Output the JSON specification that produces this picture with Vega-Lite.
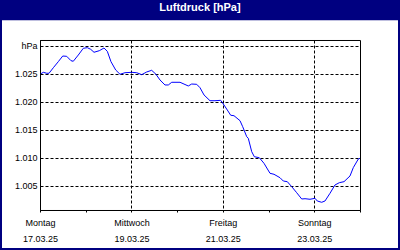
{
  "$schema": "https://vega.github.io/schema/vega-lite/v6.json",
  "width": 320,
  "height": 170,
  "autosize": {"type": "none"},
  "padding": {"left": 40, "top": 40, "right": 40, "bottom": 40},
  "background": "#000080",
  "title": {
    "text": "Luftdruck [hPa]",
    "color": "#FFFFFF",
    "font": "Liberation Sans",
    "fontSize": 11,
    "fontWeight": "bold",
    "anchor": "middle",
    "frame": "group",
    "baseline": "alphabetic",
    "offset": -22.5,
    "zindex": 1
  },
  "config": {
    "view": {"fill": "#FFFFFF", "stroke": "#FFFFFF", "strokeWidth": 76},
    "axis": {"labelOverlap": false}
  },
  "resolve": {"axis": {"x": "independent", "y": "independent"}},
  "data": {
    "values": [
      {"t": "2025-03-17T00:00:00Z", "p": 1024.95},
      {"t": "2025-03-17T01:44:00Z", "p": 1025.30},
      {"t": "2025-03-17T03:32:00Z", "p": 1025.13},
      {"t": "2025-03-17T04:44:00Z", "p": 1025.13},
      {"t": "2025-03-17T07:00:00Z", "p": 1026.12},
      {"t": "2025-03-17T09:36:00Z", "p": 1027.20},
      {"t": "2025-03-17T11:56:00Z", "p": 1028.21},
      {"t": "2025-03-17T14:01:00Z", "p": 1028.16},
      {"t": "2025-03-17T16:16:00Z", "p": 1027.38},
      {"t": "2025-03-17T17:28:00Z", "p": 1027.27},
      {"t": "2025-03-17T20:07:00Z", "p": 1028.39},
      {"t": "2025-03-17T22:44:00Z", "p": 1029.59},
      {"t": "2025-03-18T00:50:00Z", "p": 1029.70},
      {"t": "2025-03-18T02:37:00Z", "p": 1029.41},
      {"t": "2025-03-18T04:21:00Z", "p": 1028.88},
      {"t": "2025-03-18T07:08:00Z", "p": 1029.16},
      {"t": "2025-03-18T09:36:00Z", "p": 1029.64},
      {"t": "2025-03-18T11:20:00Z", "p": 1029.05},
      {"t": "2025-03-18T13:16:00Z", "p": 1027.20},
      {"t": "2025-03-18T15:45:00Z", "p": 1025.71},
      {"t": "2025-03-18T18:00:00Z", "p": 1024.95},
      {"t": "2025-03-18T20:37:00Z", "p": 1025.23},
      {"t": "2025-03-19T00:09:00Z", "p": 1025.30},
      {"t": "2025-03-19T02:46:00Z", "p": 1025.23},
      {"t": "2025-03-19T05:24:00Z", "p": 1024.88},
      {"t": "2025-03-19T08:01:00Z", "p": 1025.36},
      {"t": "2025-03-19T10:38:00Z", "p": 1025.66},
      {"t": "2025-03-19T12:53:00Z", "p": 1024.95},
      {"t": "2025-03-19T15:00:00Z", "p": 1023.93},
      {"t": "2025-03-19T17:37:00Z", "p": 1023.04},
      {"t": "2025-03-19T19:22:00Z", "p": 1023.04},
      {"t": "2025-03-19T21:09:00Z", "p": 1023.52},
      {"t": "2025-03-20T01:31:00Z", "p": 1023.52},
      {"t": "2025-03-20T05:51:00Z", "p": 1022.86},
      {"t": "2025-03-20T07:38:00Z", "p": 1023.21},
      {"t": "2025-03-20T10:16:00Z", "p": 1023.16},
      {"t": "2025-03-20T12:00:00Z", "p": 1022.55},
      {"t": "2025-03-20T14:07:00Z", "p": 1021.25},
      {"t": "2025-03-20T17:15:00Z", "p": 1020.23},
      {"t": "2025-03-20T19:52:00Z", "p": 1020.23},
      {"t": "2025-03-20T22:52:00Z", "p": 1020.30},
      {"t": "2025-03-21T00:36:00Z", "p": 1019.46},
      {"t": "2025-03-21T02:20:00Z", "p": 1018.57},
      {"t": "2025-03-21T04:08:00Z", "p": 1017.63},
      {"t": "2025-03-21T05:51:00Z", "p": 1017.55},
      {"t": "2025-03-21T09:00:00Z", "p": 1016.66},
      {"t": "2025-03-21T10:25:00Z", "p": 1015.59},
      {"t": "2025-03-21T12:32:00Z", "p": 1013.80},
      {"t": "2025-03-21T13:21:00Z", "p": 1013.52},
      {"t": "2025-03-21T15:09:00Z", "p": 1011.13},
      {"t": "2025-03-21T16:31:00Z", "p": 1010.23},
      {"t": "2025-03-21T19:08:00Z", "p": 1010.05},
      {"t": "2025-03-21T21:36:00Z", "p": 1009.05},
      {"t": "2025-03-22T00:45:00Z", "p": 1007.27},
      {"t": "2025-03-22T02:51:00Z", "p": 1007.09},
      {"t": "2025-03-22T06:00:00Z", "p": 1006.48},
      {"t": "2025-03-22T07:44:00Z", "p": 1005.89},
      {"t": "2025-03-22T09:50:00Z", "p": 1005.77},
      {"t": "2025-03-22T12:09:00Z", "p": 1004.88},
      {"t": "2025-03-22T14:46:00Z", "p": 1003.80},
      {"t": "2025-03-22T17:24:00Z", "p": 1002.68},
      {"t": "2025-03-22T19:08:00Z", "p": 1002.73},
      {"t": "2025-03-22T21:45:00Z", "p": 1002.63},
      {"t": "2025-03-23T00:23:00Z", "p": 1002.80},
      {"t": "2025-03-23T01:35:00Z", "p": 1002.32},
      {"t": "2025-03-23T03:53:00Z", "p": 1002.09},
      {"t": "2025-03-23T05:37:00Z", "p": 1002.32},
      {"t": "2025-03-23T08:15:00Z", "p": 1003.70},
      {"t": "2025-03-23T10:52:00Z", "p": 1005.18},
      {"t": "2025-03-23T13:08:00Z", "p": 1005.59},
      {"t": "2025-03-23T15:36:00Z", "p": 1005.77},
      {"t": "2025-03-23T18:45:00Z", "p": 1006.79},
      {"t": "2025-03-23T20:28:00Z", "p": 1008.27},
      {"t": "2025-03-23T23:07:00Z", "p": 1009.82},
      {"t": "2025-03-24T00:00:00Z", "p": 1009.95}
    ]
  },
  "layer": [
    {
      "mark": {"type": "line", "color": "#0000FF", "strokeWidth": 1, "interpolate": "linear"},
      "encoding": {
        "x": {
          "field": "t", "type": "temporal",
          "scale": {"type": "utc", "domain": [{"year": 2025, "month": 3, "date": 17, "utc": true}, {"year": 2025, "month": 3, "date": 24, "utc": true}]},
          "axis": {
            "title": null,
            "values": [
              {"year": 2025, "month": 3, "date": 17, "utc": true},
              {"year": 2025, "month": 3, "date": 18, "utc": true},
              {"year": 2025, "month": 3, "date": 19, "utc": true},
              {"year": 2025, "month": 3, "date": 20, "utc": true},
              {"year": 2025, "month": 3, "date": 21, "utc": true},
              {"year": 2025, "month": 3, "date": 22, "utc": true},
              {"year": 2025, "month": 3, "date": 23, "utc": true},
              {"year": 2025, "month": 3, "date": 24, "utc": true}
            ],
            "grid": true,
            "gridColor": "#000000",
            "gridDash": [3, 2],
            "gridOpacity": {"condition": {"test": "utcdate(datum.value) % 2 == 1", "value": 1}, "value": 0},
            "domainColor": "#000000",
            "tickColor": "#000000",
            "tickSize": 2,
            "labelExpr": "utcdate(datum.value) % 2 == 1 ? [['Sonntag','Montag','Dienstag','Mittwoch','Donnerstag','Freitag','Samstag'][utcday(datum.value)], utcFormat(datum.value, '%d.%m.%y')] : ''",
            "labelFont": "Liberation Sans",
            "labelFontSize": 9,
            "labelColor": "#000000",
            "labelLineHeight": 16,
            "labelPadding": 6,
            "labelBaseline": "top",
            "labelAlign": "center",
            "labelDx": -2.5,
            "labelFlush": false,
            "labelOverlap": false,
            "labelBound": false
          }
        },
        "y": {
          "field": "p", "type": "quantitative",
          "scale": {"domain": [1000.714, 1031.071], "nice": false, "zero": false},
          "axis": {
            "title": null,
            "values": [1005, 1010, 1015, 1020, 1025, 1030],
            "grid": true,
            "gridColor": "#000000",
            "gridDash": [3, 2],
            "ticks": false,
            "domainColor": "#000000",
            "labelExpr": "datum.value == 1030 ? 'hPa' : replace(format(datum.value, ',d'), ',', '.')",
            "labelFont": "Liberation Sans",
            "labelFontSize": 9,
            "labelColor": "#000000",
            "labelPadding": 3,
            "labelFlush": false,
            "labelOverlap": false,
            "labelBound": false
          }
        }
      }
    },
    {
      "data": {"values": [{}]},
      "mark": {"type": "rect", "color": "#000080"},
      "encoding": {
        "x": {"datum": {"year": 2025, "month": 3, "date": 16, "utc": true}, "type": "temporal", "axis": null},
        "x2": {"datum": {"year": 2025, "month": 3, "date": 25, "utc": true}},
        "y": {"datum": 1034.6, "type": "quantitative", "axis": null},
        "y2": {"datum": 1038.214}
      }
    },
    {
      "data": {"values": [{}]},
      "mark": {"type": "rect", "filled": false, "color": "#000000", "strokeWidth": 1},
      "encoding": {
        "x": {"datum": {"year": 2025, "month": 3, "date": 17, "minutes": 15, "seconds": 45, "utc": true}, "type": "temporal", "axis": null},
        "x2": {"datum": {"year": 2025, "month": 3, "date": 24, "minutes": 15, "seconds": 45, "utc": true}},
        "y": {"datum": 1030.982, "type": "quantitative", "axis": null},
        "y2": {"datum": 1000.625}
      }
    }
  ]
}
